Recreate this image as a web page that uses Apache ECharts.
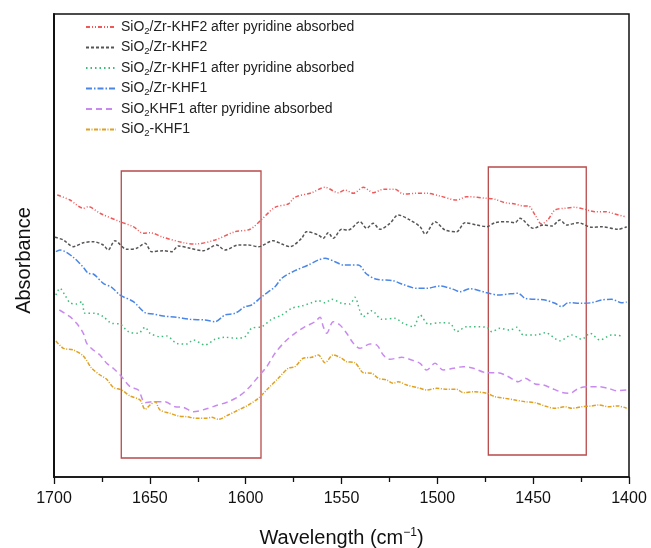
<!DOCTYPE html>
<html>
<head>
<meta charset="utf-8">
<script src="https://cdn.jsdelivr.net/npm/echarts@6/dist/echarts.min.js"></script>
<style>html,body{margin:0;padding:0;background:#fff;overflow:hidden}#c{width:651px;height:548px}</style>
</head>
<body>
<div id="c"></div>
<script>
// Series names (legend order)
const names = [
  'SiO{s|2}/Zr-KHF2 after pyridine absorbed',
  'SiO{s|2}/Zr-KHF2',
  'SiO{s|2}/Zr-KHF1 after pyridine absorbed',
  'SiO{s|2}/Zr-KHF1',
  'SiO{s|2}KHF1 after pyridine absorbed',
  'SiO{s|2}-KHF1'
];
const xTicks = [1700, 1650, 1600, 1550, 1500, 1450, 1400];
// [wavenumber (cm-1), absorbance (a.u.)]
const zrKhf2Py = [[1698.3,282],[1691.7,277],[1684.7,268.7],[1682.1,270.3],[1676,263.7],[1665.6,255.3],[1658.6,250.3],[1653.4,243.7],[1650,244.3],[1643,239.7],[1632.5,234.3],[1626.4,233],[1616,237],[1605.6,245.3],[1597.7,247.7],[1591.6,257.7],[1584.7,269.7],[1577.8,273],[1574.3,279.7],[1565.6,284.3],[1558.6,289.7],[1551.7,284.3],[1548.2,287],[1543.8,283.7],[1538.6,289.7],[1533.4,284.3],[1528.2,287.7],[1522.1,287.7],[1517.8,283],[1510.8,283.7],[1505.6,283.7],[1498.6,281],[1489.9,277],[1484.7,280.3],[1474.2,278.7],[1469.9,277.7],[1464.7,274.3],[1459.5,273],[1455.1,271],[1452.5,271],[1449,262],[1445.6,253],[1442.1,257.7],[1438.6,267],[1433.4,268.7],[1428.2,269.7],[1423,267.7],[1417.7,265.3],[1412.5,265.3],[1407.3,263],[1402.1,260.3]];
const zrKhf2 = [[1699.5,239.7],[1695.1,237],[1689.9,230.3],[1684.7,234.3],[1679.5,235.3],[1674.3,232],[1671.7,227],[1668.2,236.3],[1662.1,227.7],[1656.9,228.7],[1652.5,233.7],[1649,225.3],[1643,226.3],[1638.6,225.3],[1635.1,231],[1629,228.7],[1622.1,226.3],[1615.1,232],[1610.8,227],[1603.8,232],[1598.6,232],[1593.4,230.3],[1585.6,236.3],[1581.2,233],[1576.9,230.3],[1570.8,238.7],[1568.2,245.3],[1562.1,242],[1559.5,238.7],[1556.9,244.3],[1554.3,238.7],[1549.9,247.7],[1546.5,247],[1540.4,255.3],[1536.9,248.7],[1533.4,253.7],[1530,247.7],[1524.7,253.7],[1520.4,262],[1514.3,257],[1509,250.3],[1506.4,243],[1501.2,255.3],[1496,247],[1489.9,245.3],[1485.6,254.3],[1479.5,252],[1474.2,250.3],[1469.9,254.3],[1463.8,255.3],[1459.5,254.3],[1456.9,258.7],[1449.9,248.7],[1444.7,252],[1440.3,251],[1436,257],[1432.5,252],[1426.4,254.3],[1419.5,249.7],[1414.3,250.3],[1405.6,247.7],[1401.2,250.3]];
const zrKhf1Py = [[1699,182],[1696.9,188.7],[1694.3,182],[1691.7,174.3],[1688.2,173],[1685.5,175.3],[1683.8,163.7],[1678.6,163.7],[1674.3,160.3],[1669.9,153.7],[1665.6,153],[1661.2,145.3],[1656,143.7],[1652.5,149.7],[1649.9,143.7],[1644.7,140.3],[1641.2,141],[1636,133.7],[1630.8,133],[1627.3,137],[1621.2,132],[1616,137.7],[1610.8,139.7],[1604.7,138.7],[1600.3,140.3],[1596.9,148.7],[1591.6,150.3],[1586.4,157.7],[1581.2,162],[1576,168.7],[1570.8,171],[1565.6,174.3],[1562.1,176.3],[1558.6,174.3],[1555.1,177.7],[1549.9,173.7],[1545.6,173],[1543,179.7],[1540.4,166.3],[1538.6,160.3],[1534.2,166.3],[1529,157.7],[1522.1,158.7],[1517.8,153.7],[1512.5,150.3],[1509,162],[1504.7,153],[1498.6,154.3],[1493.4,153.7],[1489.9,145.3],[1484.7,150.3],[1474.2,149.7],[1471.6,145.3],[1467.3,148.7],[1462.1,147],[1458.6,149.7],[1455.1,142],[1448.2,142],[1443.8,144.3],[1436,136.3],[1429.9,142],[1424.7,137.7],[1420.3,143.7],[1415.1,137],[1409,142],[1402.9,141]];
const zrKhf1 = [[1699,225.3],[1696.9,227],[1689.9,219.7],[1684.7,209.7],[1682.1,203.7],[1679.5,203],[1674.3,193.7],[1669.9,189.7],[1665.6,182],[1658.6,175.3],[1652.5,164.3],[1648.2,163],[1643,161],[1636,159.7],[1629,157.7],[1621.2,157],[1616,155.3],[1610.8,162],[1605.6,163.7],[1600.3,170.3],[1596.9,172],[1591.6,180.3],[1584.7,190.3],[1581.2,198.7],[1574.3,206.3],[1567.3,212],[1562.1,217],[1558.6,218.7],[1553.4,215.3],[1549.1,212],[1545.6,212],[1541.2,212],[1536.9,203],[1531.6,197.7],[1523,196.3],[1518.6,193],[1510.8,188.7],[1505.6,188.7],[1498.6,191],[1491.7,187.7],[1488.2,185.3],[1483,188.3],[1474.2,184.3],[1468.2,182],[1462.9,183],[1457.8,183.7],[1454.3,178.7],[1449,177.7],[1443.8,177],[1438.6,173.7],[1435.1,170.3],[1431.7,174.3],[1424.7,173.7],[1419.5,174.3],[1414.3,177],[1409,177.7],[1403.8,174.3],[1401.2,175]];
const khf1Py = [[1697.2,167],[1691.7,160.3],[1688.2,153.7],[1684.7,143.7],[1682.9,133.7],[1679.5,127],[1676,122],[1672.5,113.7],[1669.1,108.7],[1664.7,100.3],[1660.3,90.3],[1656,87],[1652.5,74.3],[1648.2,75.3],[1642.1,75.3],[1636.9,70.3],[1632.5,69.7],[1627.3,65.3],[1621.2,67.7],[1616,71],[1609.1,75.3],[1603.8,80.3],[1598.6,88.7],[1593.4,100.3],[1589,110.3],[1584.7,123.7],[1579.5,135.3],[1574.3,143.7],[1569,150.3],[1563.8,155.3],[1561.2,159.7],[1559.5,150.3],[1557.7,143.7],[1554.3,155.3],[1550.8,152],[1547.3,143.7],[1543.8,133.7],[1540.4,128.7],[1535.1,133],[1531.6,132],[1528.2,122],[1524.7,117.7],[1518.6,119.7],[1513.4,117],[1509,113.7],[1505.6,107],[1501.2,113.7],[1496.9,107],[1491.7,108.7],[1486.5,110.3],[1481.2,108.7],[1474.2,104.3],[1468.2,104.3],[1462.9,100.3],[1457.8,95.3],[1454.3,98.7],[1449,93],[1444.7,92],[1440.3,88.7],[1435.1,84.7],[1430.8,83.7],[1426.4,88.7],[1421.2,90.3],[1416,90.3],[1410.8,88.7],[1406.4,86.3],[1401.2,87]];
const khf1 = [[1699,136],[1695.1,128.7],[1689.9,127],[1684.7,121],[1680.3,108.7],[1676,102],[1672.5,97.7],[1669.1,89.7],[1664.7,87],[1660.3,81],[1655.1,77],[1652.5,67.7],[1649.9,72],[1647.3,75.3],[1644.7,67],[1639.5,63.7],[1635.1,61],[1630.8,60.3],[1625.5,58.7],[1621.2,58.7],[1617.7,59.7],[1614.3,57.7],[1609.1,62],[1603.8,67],[1598.6,72],[1593.4,78.7],[1588.2,88.7],[1583,98.7],[1577.8,108.7],[1574.3,110.3],[1570,118.7],[1565.6,119.7],[1562.1,122],[1558.6,114.3],[1554.3,122],[1549.9,118.7],[1547.3,115.3],[1543,114.3],[1538.6,104.3],[1534.2,103.7],[1530.8,98.7],[1526.4,97],[1523,93.7],[1520.4,95.3],[1516,92],[1509,88.7],[1505.6,87],[1500.3,88.7],[1495.1,87.7],[1489.9,87.7],[1486.5,84.3],[1481.2,85.3],[1474.2,83.7],[1469.9,80.3],[1464.7,78.7],[1459.5,77],[1454.3,75.3],[1449,74.3],[1443.8,71],[1438.6,68.7],[1433.4,70.3],[1429.9,68.7],[1424.7,70.3],[1419.5,71],[1416,72],[1410.8,70.3],[1405.6,71],[1401.2,68.7]];
// highlighted regions [x1, yTop, x2, yBottom]
const boxes = [[1664.9, 306, 1592.0, 19], [1473.4, 310, 1422.3, 22]];

const colors = ['#f0595a', '#555555', '#3dbb78', '#4a86e8', '#c98af0', '#e0a020'];
const types = [[4,2,1,2,1,2], [3,2], [1.5,3], [6,2,1.5,2], [6,4], [4,1.5,1,1.5]];
const datas = [zrKhf2Py, zrKhf2, zrKhf1Py, zrKhf1, khf1Py, khf1];
const FONT = 'Liberation Sans, Arial, sans-serif';

const chart = echarts.init(document.getElementById('c'), null, {renderer: 'canvas', width: 651, height: 548});
const series = datas.map((d, i) => ({
  name: names[i],
  type: 'line',
  data: d,
  symbol: 'none',
  smooth: 0.3,
  lineStyle: {color: colors[i], width: 1.5, type: types[i]},
  itemStyle: {color: colors[i]},
  z: 3
}));
series[0].markArea = {
  silent: true,
  itemStyle: {color: 'rgba(0,0,0,0)', borderColor: '#b84a4a', borderWidth: 1.3},
  data: boxes.map(b => [{coord: [b[0], b[1]]}, {coord: [b[2], b[3]]}])
};

chart.setOption({
  animation: false,
  backgroundColor: '#fff',
  grid: {left: 54, right: 22, top: 14, bottom: 71, show: true, borderColor: '#111', borderWidth: 1.5,
    outerBoundsMode: 'none', containLabel: false},
  legend: {
    orient: 'vertical', left: 80, top: 15,
    itemWidth: 30, itemHeight: 12, itemGap: 4.5,
    itemStyle: {opacity: 0},
    data: names,
    textStyle: {fontFamily: FONT, fontSize: 14, color: '#222',
      rich: {s: {fontSize: 9.5, verticalAlign: 'bottom', padding: [8, 0, 0, 0], fontFamily: FONT, color: '#222'}}}
  },
  xAxis: {
    type: 'value', inverse: true, min: 1400, max: 1700, interval: 50,
    name: 'Wavelength (cm{sup|−1})', nameLocation: 'middle', nameGap: 50,
    nameTextStyle: {fontFamily: FONT, fontSize: 20, color: '#111',
      rich: {sup: {fontSize: 12, verticalAlign: 'top', padding: [0,0,10,0], fontFamily: FONT, color: '#111'}}},
    axisLine: {lineStyle: {color: '#111', width: 1.5}},
    axisTick: {length: 7, lineStyle: {color: '#111', width: 1.3}},
    minorTick: {show: true, splitNumber: 2, length: 5, lineStyle: {color: '#111', width: 1.3}},
    axisLabel: {fontFamily: FONT, fontSize: 16, color: '#111', margin: 14,
      formatter: v => xTicks.includes(v) ? String(v) : ''},
    splitLine: {show: false}
  },
  yAxis: {
    type: 'value', min: 0, max: 463,
    name: 'Absorbance', nameLocation: 'middle', nameGap: 20, nameRotate: 90,
    nameTextStyle: {fontFamily: FONT, fontSize: 20, color: '#111', padding: [0,0,0,-30]},
    axisLine: {show: true, lineStyle: {color: '#111', width: 2}},
    axisTick: {show: false}, axisLabel: {show: false}, splitLine: {show: false}
  },
  series: series
});
</script>
</body>
</html>
